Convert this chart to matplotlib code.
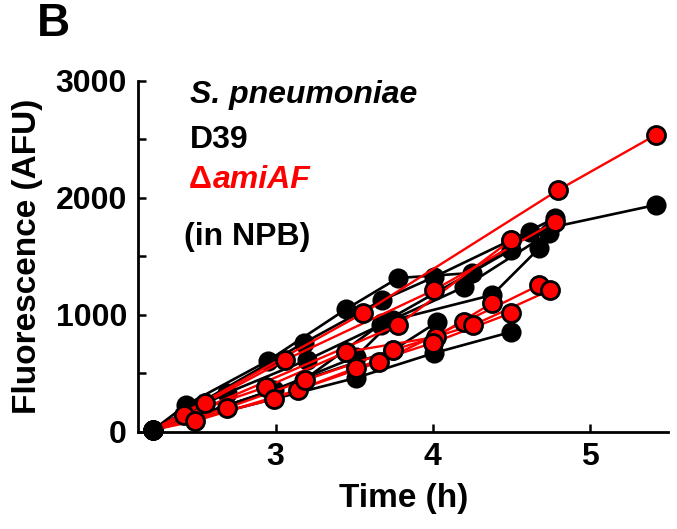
import matplotlib
matplotlib.use("Agg")
import matplotlib.pyplot as plt
from matplotlib.ticker import MultipleLocator

plt.rcParams['font.family'] = ['Liberation Sans', 'DejaVu Sans']
plt.rcParams['font.weight'] = 'bold'

# D39 (black) traces: time (h), fluorescence (AFU)
d39_t = [
    [2.22, 2.43, 2.95, 3.45, 3.78, 4.25, 4.62, 5.42],
    [2.22, 3.18, 3.68, 4.01, 4.50, 4.78],
    [2.22, 2.69, 3.20, 3.67, 4.20, 4.74],
    [2.22, 2.99, 3.51, 3.75, 4.38, 4.68],
    [2.22, 3.18, 3.68, 4.50],
    [2.22, 3.51, 4.01, 4.50],
    [2.22, 3.75, 4.03],
]
d39_y = [
    [17, 231, 607, 1051, 1316, 1359, 1709, 1940],
    [17, 761, 1128, 1325, 1641, 1829],
    [17, 333, 615, 915, 1239, 1701],
    [17, 359, 641, 957, 1171, 1573],
    [17, 444, 932, 1556],
    [17, 462, 675, 855],
    [17, 701, 940],
]

# amiAF (red) traces
ami_t = [
    [2.22, 3.56, 4.80, 5.42],
    [2.22, 2.55, 3.06, 4.01, 4.78],
    [2.22, 2.42, 2.94, 3.45, 4.02, 4.38],
    [2.22, 2.49, 3.14, 3.66, 4.20, 4.68],
    [2.22, 2.69, 3.19, 3.75, 4.26, 4.75],
    [2.22, 2.99, 3.51, 4.00, 4.50],
    [2.22, 3.78, 4.50],
]
ami_y = [
    [17, 1017, 2068, 2538],
    [17, 248, 615, 1214, 1795],
    [17, 145, 385, 684, 812, 1103],
    [17, 94, 359, 598, 940, 1256],
    [17, 205, 444, 701, 915, 1214],
    [17, 282, 547, 761, 1017],
    [17, 915, 1641],
]

fig = plt.figure(figsize=(6.77, 5.29), dpi=100)
ax = fig.add_axes([0.204, 0.1834, 0.783, 0.6635])

ms = 13
for t, y in zip(d39_t, d39_y):
    ax.plot(t, y, color='black', lw=1.9, marker='o', ms=ms,
            mfc='black', mec='black', mew=1.5, clip_on=False, zorder=2)
for t, y in zip(ami_t, ami_y):
    ax.plot(t, y, color='#ff0000', lw=1.7, zorder=3, clip_on=False)
    ax.plot(t[1:], y[1:], ls='none', marker='o', ms=ms, mfc='#ff0000',
            mec='black', mew=2.0, clip_on=False, zorder=4)
# common starting point
ax.plot([d39_t[0][0]], [d39_y[0][0]], ls='none', marker='o', ms=ms + 0.5,
        color='black', clip_on=False, zorder=5)

ax.set_xlim(2.125, 5.5)
ax.set_ylim(0, 3000)
ax.xaxis.set_major_locator(MultipleLocator(1))
ax.yaxis.set_major_locator(MultipleLocator(1000))
ax.yaxis.set_minor_locator(MultipleLocator(500))

for s in ['top', 'right']:
    ax.spines[s].set_visible(False)
for s in ['left', 'bottom']:
    ax.spines[s].set_linewidth(2.0)

ax.tick_params(axis='both', which='both', direction='in', width=1.8,
               length=6, labelsize=23)
ax.tick_params(axis='x', pad=7)
ax.tick_params(axis='y', pad=8)
for lab in ax.get_xticklabels() + ax.get_yticklabels():
    lab.set_fontweight('bold')

ax.set_xlabel('Time (h)', fontsize=24, fontweight='bold', labelpad=8)
ax.set_ylabel('Fluorescence (AFU)', fontsize=24, fontweight='bold', labelpad=9)

fig.text(0.055, 0.955, 'B', fontsize=33, fontweight='bold', ha='left', va='center')
fig.text(0.281, 0.82, 'S. pneumoniae', fontsize=23, fontweight='bold',
         style='italic', ha='left', va='center')
fig.text(0.281, 0.735, 'D39', fontsize=23, fontweight='bold', ha='left', va='center')
dt = fig.text(0.279, 0.66, '\u0394', fontsize=23, fontweight='bold',
              color='#ff0000', ha='left', va='center')
fig.canvas.draw()
bb = dt.get_window_extent()
fig.text(bb.x1 / fig.bbox.width + 0.002, 0.66, 'amiAF', fontsize=23,
         fontweight='bold', style='italic', color='#ff0000', ha='left', va='center')
fig.text(0.272, 0.552, '(in NPB)', fontsize=23, fontweight='bold', ha='left', va='center')

fig.savefig('out.png', dpi=100)
